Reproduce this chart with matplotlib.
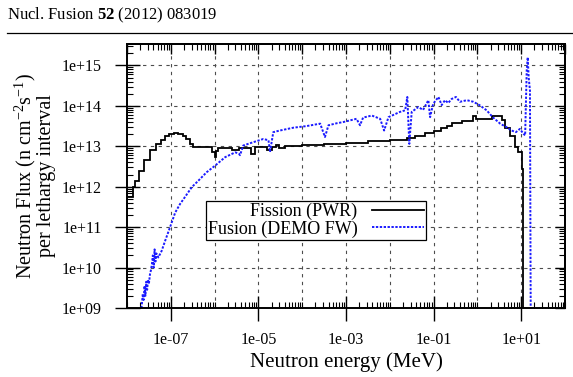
import numpy as np
import matplotlib.pyplot as plt
from matplotlib.lines import Line2D
from matplotlib.ticker import LogLocator, FixedLocator, FuncFormatter, NullFormatter

plt.rcParams['font.family'] = ['Liberation Serif', 'DejaVu Serif']
plt.rcParams['mathtext.fontset'] = 'custom'
plt.rcParams['mathtext.rm'] = 'Liberation Serif'
plt.rcParams['mathtext.it'] = 'Liberation Serif:italic'
plt.rcParams['mathtext.bf'] = 'Liberation Serif:bold'

# Fission (PWR) group spectrum: bin edges (log10 MeV) and flux (log10)
fission_log_edges = [-8.10, -7.86, -7.82, -7.72, -7.62, -7.47, -7.33, -7.23, -7.13,
                     -7.03, -6.93, -6.83, -6.73, -6.65, -6.57, -6.50, -6.05, -6.00,
                     -5.97, -5.93, -5.60, -5.45, -5.17, -5.08, -4.80, -4.70, -4.60,
                     -4.52, -4.40, -4.00, -3.50, -3.00, -2.50, -2.00, -1.60, -1.42,
                     -1.20, -1.00, -0.82, -0.70, -0.58, -0.36, -0.10, -0.03, 0.33,
                     0.57, 0.64, 0.75, 0.86, 0.93, 1.01, 1.05, 1.30]
fission_log_flux = [11.74, 12.00, 12.15, 12.40, 12.65, 12.90, 13.06, 13.15, 13.26,
                    13.31, 13.33, 13.31, 13.26, 13.18, 13.05, 12.99, 12.85, 12.74,
                    12.88, 12.96, 12.92, 12.96, 12.81, 12.98, 12.92, 12.98, 13.04,
                    12.96, 13.00, 13.03, 13.06, 13.09, 13.12, 13.15, 13.20, 13.26,
                    13.32, 13.38, 13.44, 13.49, 13.57, 13.63, 13.76, 13.67, 13.76,
                    13.64, 13.45, 13.25, 12.99, 12.86, 12.45, 8.00]

# Fusion (DEMO FW) spectrum (log10 MeV, log10 flux)
fusion_log_e = [-7.68, -7.66, -7.64, -7.62, -7.60, -7.58, -7.56, -7.54, -7.52, -7.50,
                -7.475, -7.45, -7.43, -7.41, -7.39, -7.37, -7.35, -7.33, -7.285, -7.21,
                -7.13, -7.02, -6.90, -6.79, -6.68, -6.52, -6.37, -6.18, -5.99, -5.76,
                -5.53, -5.45, -5.42, -5.345, -5.12, -4.89, -4.77, -4.735, -4.66, -4.51,
                -4.20, -3.90, -3.59, -3.48, -3.40, -3.21, -3.06, -2.76, -2.68, -2.61,
                -2.41, -2.22, -2.13, -2.03, -1.77, -1.65, -1.60, -1.555, -1.50, -1.35,
                -1.24, -1.12, -1.08, -1.01, -0.89, -0.815, -0.74, -0.665, -0.59, -0.49,
                -0.40, -0.24, -0.09, 0.06, 0.21, 0.36, 0.52, 0.67, 0.78, 0.88,
                0.97, 1.05, 1.09, 1.126, 1.149, 1.171, 1.20, 1.217]
fusion_log_flux = [8.90, 9.10, 9.35, 9.20, 9.55, 9.30, 9.65, 9.45, 9.70, 9.60,
                   9.84, 9.95, 10.10, 10.30, 10.00, 10.45, 10.15, 10.35, 10.25, 10.41,
                   10.66, 10.99, 11.36, 11.57, 11.74, 11.99, 12.15, 12.36, 12.52, 12.73,
                   12.85, 12.82, 12.78, 13.02, 13.10, 13.18, 13.15, 12.86, 13.35, 13.39,
                   13.46, 13.50, 13.56, 13.23, 13.52, 13.57, 13.60, 13.68, 13.52, 13.71,
                   13.76, 13.68, 13.39, 13.72, 13.85, 13.89, 14.22, 13.06, 13.85, 13.97,
                   13.90, 14.14, 13.72, 14.05, 14.22, 14.02, 14.14, 14.07, 14.17, 14.22,
                   14.10, 14.14, 14.10, 14.01, 13.89, 13.71, 13.56, 13.47, 13.39, 13.35,
                   13.43, 13.31, 13.27, 14.88, 15.20, 14.70, 14.38, 8.90]

x_label_decades = [-7, -5, -3, -1, 1]
grid_x_decades = [-7, -6, -5, -4, -3, -2, -1, 0, 1]
grid_y_decades = [10, 11, 12, 13, 14, 15]

fig = plt.figure(figsize=(5.73, 3.77), dpi=100)
ax = fig.add_axes([127 / 573, 1 - 308 / 377, 438 / 573, 264 / 377])

# header of the journal page
fig.text(7 / 573, 1 - 15 / 377, r'Nucl. Fusion $\mathbf{52}$ (2012) 083019',
         fontsize=12, va='center', ha='left')
fig.add_artist(Line2D([7 / 573, 1.0], [1 - 33 / 377, 1 - 33 / 377], color='k', lw=0.9))

ax.stairs(10.0 ** np.array(fission_log_flux), 10.0 ** np.array(fission_log_edges),
          baseline=None, color='black', lw=1.3, label='Fission (PWR)')
ax.plot(10.0 ** np.array(fusion_log_e), 10.0 ** np.array(fusion_log_flux),
        color='#1a1aff', lw=1.4, dashes=(1.2, 0.8), label='Fusion (DEMO FW)')

ax.set_xscale('log')
ax.set_yscale('log')
ax.set_xlim(1e-8, 1e2)
ax.set_ylim(1e9, 10 ** 15.53)

for d in grid_x_decades:
    ax.axvline(10.0 ** d, color='0.3', lw=0.8, dashes=(3, 4), zorder=0)
for d in grid_y_decades:
    ax.axhline(10.0 ** d, color='0.3', lw=0.8, dashes=(3, 4), zorder=0)

ax.xaxis.set_major_locator(FixedLocator([10.0 ** d for d in x_label_decades]))
ax.xaxis.set_minor_locator(LogLocator(base=10, subs=np.arange(1, 10), numticks=100))
ax.xaxis.set_major_formatter(FuncFormatter(lambda v, p: f'{v:.0e}'))
ax.xaxis.set_minor_formatter(NullFormatter())
ax.yaxis.set_major_locator(LogLocator(base=10, numticks=100))
ax.yaxis.set_minor_locator(LogLocator(base=10, subs=np.arange(2, 10), numticks=100))
ax.yaxis.set_major_formatter(FuncFormatter(lambda v, p: f'{v:.0e}'))
ax.yaxis.set_minor_formatter(NullFormatter())

ax.tick_params(which='major', direction='inout', length=18, width=1.0,
               labelsize=11.5, labelfontfamily='Liberation Serif')
ax.tick_params(which='minor', direction='in', length=4, width=0.8)
ax.tick_params(axis='x', which='major', pad=8)
ax.tick_params(axis='y', which='major', pad=9)

# mirror ticks on top and right, pointing inward
top = ax.secondary_xaxis('top')
top.xaxis.set_major_locator(LogLocator(base=10, numticks=100))
top.xaxis.set_minor_locator(LogLocator(base=10, subs=np.arange(2, 10), numticks=100))
top.xaxis.set_major_formatter(NullFormatter())
top.xaxis.set_minor_formatter(NullFormatter())
top.tick_params(which='major', direction='in', length=7, width=1.0, labeltop=False)
top.tick_params(which='minor', direction='in', length=4, width=0.8)
right = ax.secondary_yaxis('right')
right.yaxis.set_major_locator(LogLocator(base=10, numticks=100))
right.yaxis.set_minor_locator(LogLocator(base=10, subs=np.arange(2, 10), numticks=100))
right.yaxis.set_major_formatter(NullFormatter())
right.yaxis.set_minor_formatter(NullFormatter())
right.tick_params(which='major', direction='in', length=7, width=1.0, labelright=False)
right.tick_params(which='minor', direction='in', length=4, width=0.8)

for s in ax.spines.values():
    s.set_linewidth(1.4)
top.spines['top'].set_linewidth(1.4)
right.spines['right'].set_linewidth(1.4)

ax.set_xlabel('Neutron energy (MeV)', fontsize=15, labelpad=3)
ax.set_ylabel('Neutron Flux (n cm$^{-2}$s$^{-1}$)\nper lethargy interval',
              fontsize=14.5, linespacing=0.95, labelpad=4)

leg = ax.legend(loc='center', bbox_to_anchor=(0.4315, 0.3325), markerfirst=False,
                fancybox=False, edgecolor='black', framealpha=1, fontsize=13,
                handlelength=2.9, borderpad=0.12, labelspacing=0.0, handletextpad=0.8,
                borderaxespad=0)
leg.get_frame().set_linewidth(0.9)

fig.savefig('out.png', dpi=100)
